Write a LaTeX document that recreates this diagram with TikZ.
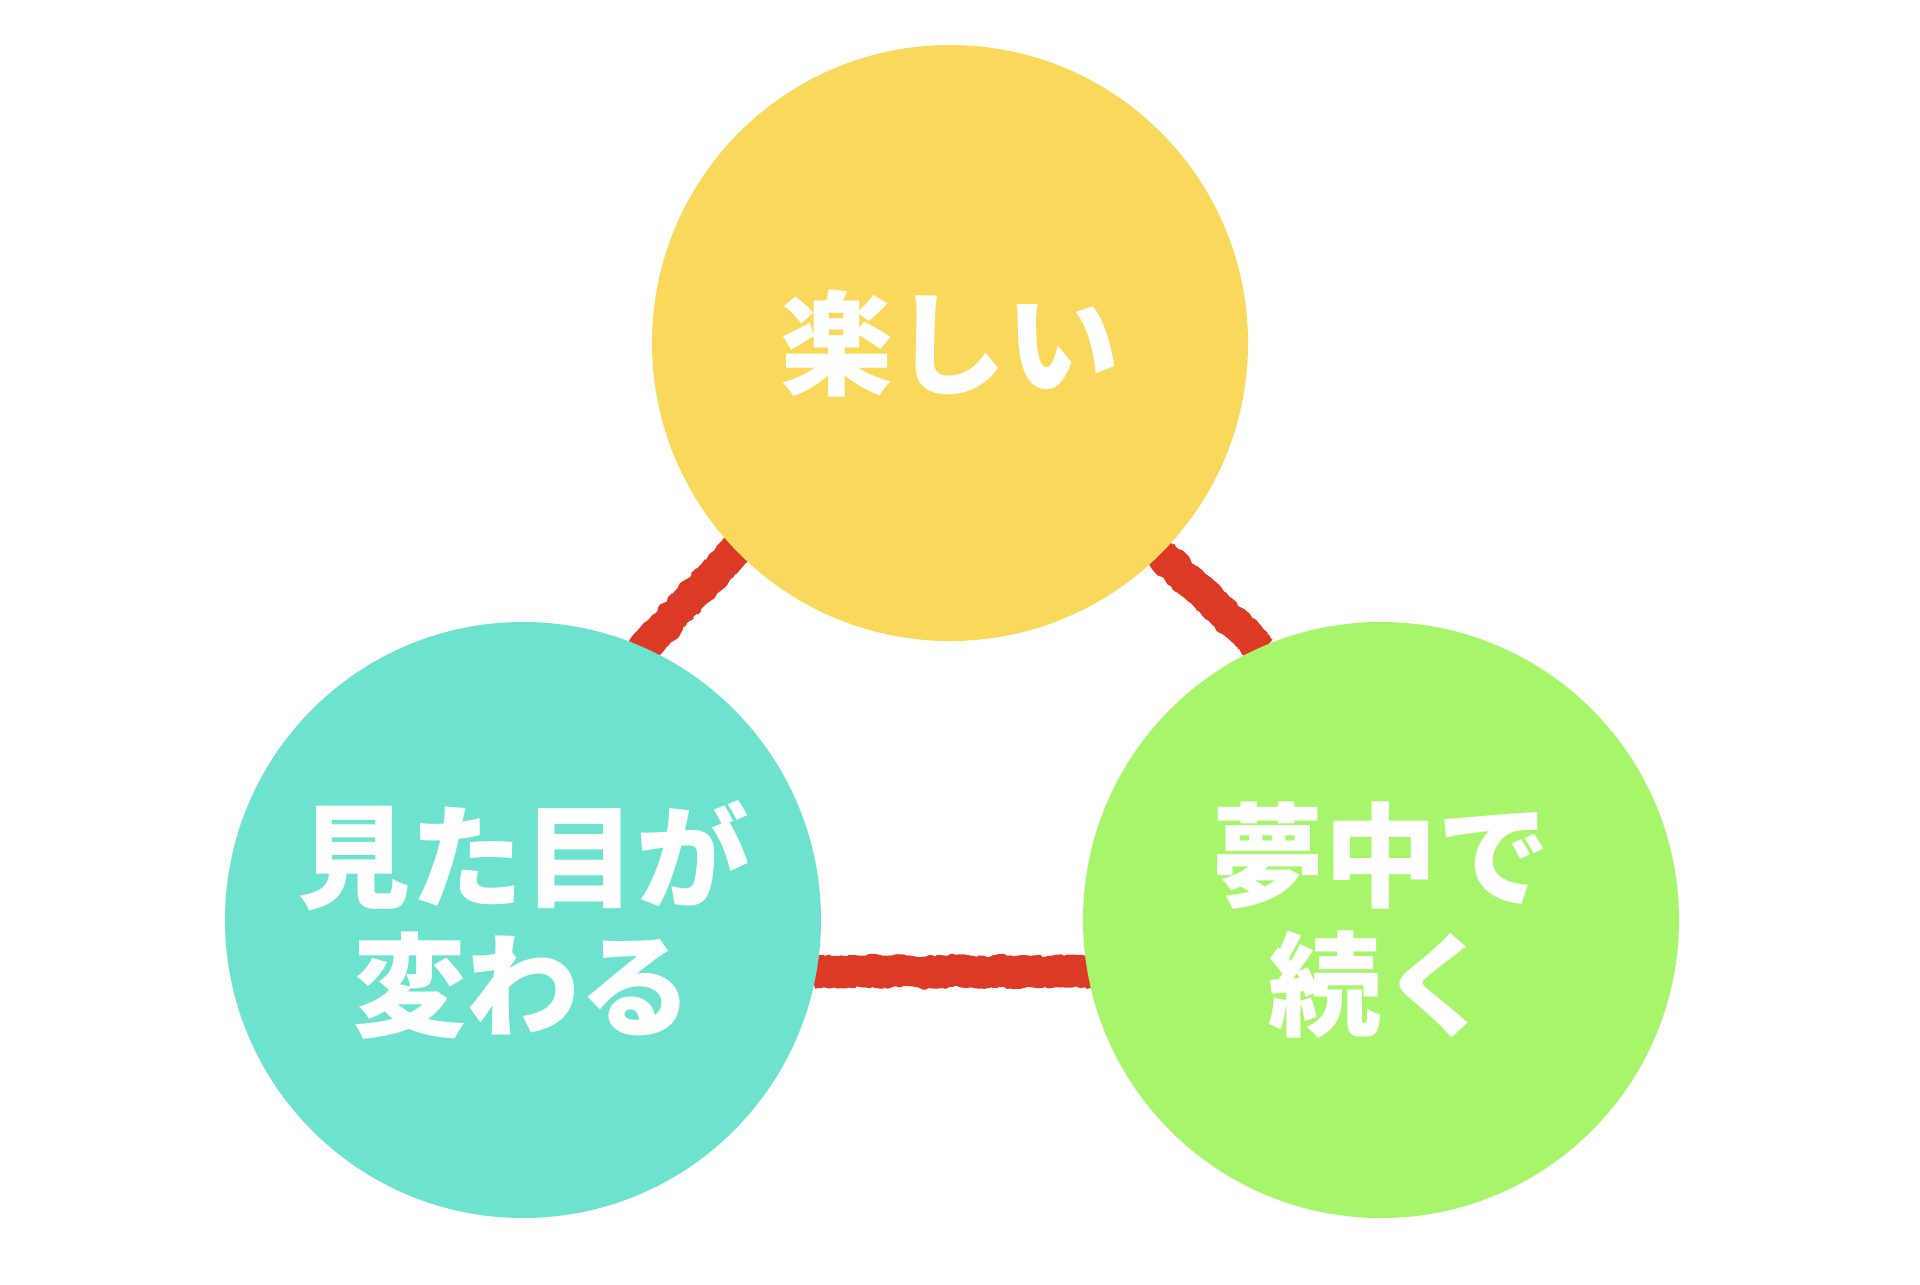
\documentclass[tikz,border=0pt]{standalone}
\usepackage{fontspec}
\usetikzlibrary{decorations.pathmorphing,backgrounds}
\newfontfamily\jpfont{Noto Sans CJK JP}
\definecolor{cyel}{HTML}{F9D85B}
\definecolor{cteal}{HTML}{6DE2CF}
\definecolor{cgreen}{HTML}{A7F56B}
\definecolor{cred}{HTML}{DC3A25}
\tikzset{
  bubble/.style={circle, minimum size=596pt, inner sep=0pt, text=white, align=center,
    font={\jpfont\bfseries\fontsize{113}{129}\selectfont}},
  conn/.style={draw=cred, line width=29pt, line cap=butt, shorten <=-4pt, shorten >=-4pt,
    postaction={draw=cred, line width=33pt, line join=bevel, line cap=butt,
      decorate,
      decoration={random steps, segment length=2.5pt, amplitude=1.5pt}}}
}
\begin{document}
\pgfmathsetseed{7}
\begin{tikzpicture}[x=1pt,y=-1pt]
\useasboundingbox (0,0) rectangle (1920,1285);
\node[bubble, fill=cyel] (top) at (950,343) {楽しい};
\node[bubble, fill=cteal] (left) at (523,920) {見た目が\\変わる};
\node[bubble, fill=cgreen] (right) at (1381,920) {夢中で\\続く};
\begin{pgfonlayer}{background}
\fill[white] (0,0) rectangle (1920,1285);
\draw[conn] (top.224) -- (left.66);
\draw[conn] (top.-45) -- (right.114);
\draw[conn] (left.-10.7) -- (right.190.7);
\end{pgfonlayer}
\end{tikzpicture}
\end{document}
